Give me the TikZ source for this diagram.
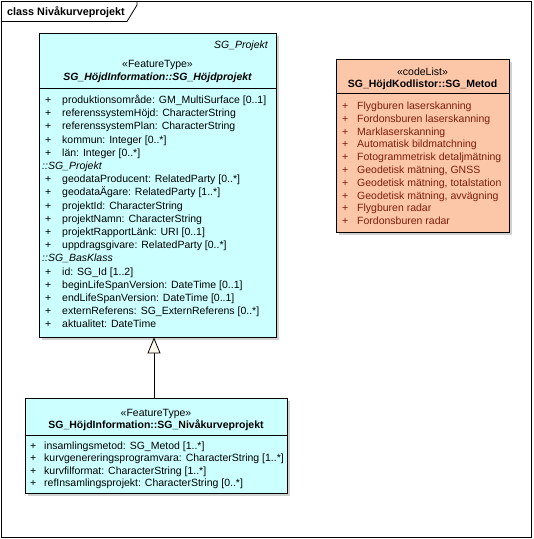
\documentclass[tikz,border=0pt]{standalone}
\usepackage{fontspec}
\setmainfont{Liberation Sans}
\usetikzlibrary{arrows.meta, shadows}
\definecolor{FeatCyan}{RGB}{204, 255, 255}
\definecolor{CodeSalmon}{RGB}{252, 198, 168}
\definecolor{CodeText}{RGB}{125, 30, 15}
\definecolor{TipFill}{RGB}{255, 248, 236}

\begin{document}
\begin{tikzpicture}[
    x=1pt, y=-1pt,
    >=Stealth,
    umlbox/.style={
        draw=black, line width=0.8pt, rectangle, inner sep=0pt,
        general shadow={fill=black!18, shadow xshift=2.5pt, shadow yshift=-2.5pt}
    },
    featbox/.style={umlbox, fill=FeatCyan},
    codebox/.style={umlbox, fill=CodeSalmon},
    attr/.style={anchor=base west, inner sep=0pt,
        font=\fontsize{10.5}{12}\selectfont},
    plus/.style={attr},
    sect/.style={attr, font=\fontsize{10.5}{12}\selectfont\itshape},
    stereo/.style={anchor=base, inner sep=0pt,
        font=\fontsize{10.5}{12}\selectfont},
    cname/.style={anchor=base, inner sep=0pt,
        font=\fontsize{10.5}{12}\selectfont\bfseries},
    gen/.style={-{Triangle[length=16pt, width=13pt, fill=TipFill]}, line width=0.8pt},
]
\useasboundingbox (0,0) rectangle (534,539);

%% diagram frame
\node[draw=black, line width=0.8pt, minimum width=530pt, minimum height=536pt,
    inner sep=0pt] (frame) at (266,269) {};
\draw[line width=0.8pt] (1,21.5) -- (127,21.5) -- (137,5) -- (137,1);
\node[anchor=base west, inner sep=0pt, font=\fontsize{10.8}{12}\selectfont\bfseries]
    (title) at (7,15.5) {class Nivåkurveprojekt};

%% SG_Höjdprojekt
\node[featbox, minimum width=237pt, minimum height=304pt] (hojd) at (157.5,185) {};
\node[anchor=base east, inner sep=0pt, font=\fontsize{10.5}{12}\selectfont\itshape]
    (hojdpar) at (268,48) {SG\_Projekt};
\node[stereo] (hojdst) at (157.5,67) {«FeatureType»};
\node[cname, font=\fontsize{10.5}{12}\selectfont\bfseries\itshape]
    (hojdnm) at (157.5,80) {SG\_HöjdInformation::SG\_Höjdprojekt};
\draw[line width=0.8pt] (hojd.west |- 0,88) -- (hojd.east |- 0,88);

\foreach \txt [count=\i from 0] in {
    produktionsområde: GM\_MultiSurface [0..1],
    referenssystemHöjd: CharacterString,
    referenssystemPlan: CharacterString,
    kommun: Integer [0..*],
    län: Integer [0..*]} {
    \node[plus] (pa\i) at (45, 103.5+13.2*\i) {+};
    \node[attr] (aa\i) at (62, 103.5+13.2*\i) {\txt};
}
\node[sect] (sectp) at (42, 103.5+13.2*5) {::SG\_Projekt};
\foreach \txt [count=\i from 6] in {
    geodataProducent: RelatedParty [0..*],
    geodataÄgare: RelatedParty [1..*],
    projektId: CharacterString,
    projektNamn: CharacterString,
    projektRapportLänk: URI [0..1],
    uppdragsgivare: RelatedParty [0..*]} {
    \node[plus] (pb\i) at (45, 103.5+13.2*\i) {+};
    \node[attr] (ab\i) at (62, 103.5+13.2*\i) {\txt};
}
\node[sect] (sectb) at (42, 103.5+13.2*12) {::SG\_BasKlass};
\foreach \txt [count=\i from 13] in {
    id: SG\_Id [1..2],
    beginLifeSpanVersion: DateTime [0..1],
    endLifeSpanVersion: DateTime [0..1],
    externReferens: SG\_ExternReferens [0..*],
    aktualitet: DateTime} {
    \node[plus] (pc\i) at (45, 103.5+13.2*\i) {+};
    \node[attr] (ac\i) at (62, 103.5+13.2*\i) {\txt};
}

%% SG_Metod
\node[codebox, minimum width=173pt, minimum height=173pt] (metod) at (422.5,145.5) {};
\node[stereo] (metodst) at (422.5,75) {«codeList»};
\node[cname] (metodnm) at (422.5,87.5) {SG\_HöjdKodlistor::SG\_Metod};
\draw[line width=0.8pt] (metod.west |- 0,93) -- (metod.east |- 0,93);
\foreach \txt [count=\i from 0] in {
    Flygburen laserskanning,
    Fordonsburen laserskanning,
    Marklaserskanning,
    Automatisk bildmatchning,
    Fotogrammetrisk detaljmätning,
    {Geodetisk mätning, GNSS},
    {Geodetisk mätning, totalstation},
    {Geodetisk mätning, avvägning},
    Flygburen radar,
    Fordonsburen radar} {
    \node[plus, text=CodeText] (pm\i) at (342, 109.5+12.8*\i) {+};
    \node[attr, text=CodeText] (am\i) at (357, 109.5+12.8*\i) {\txt};
}

%% SG_Nivåkurveprojekt
\node[featbox, minimum width=262pt, minimum height=95pt] (niva) at (156,445.5) {};
\node[stereo] (nivast) at (156,416) {«FeatureType»};
\node[cname] (nivanm) at (156,428.5) {SG\_HöjdInformation::SG\_Nivåkurveprojekt};
\draw[line width=0.8pt] (niva.west |- 0,435) -- (niva.east |- 0,435);
\foreach \txt [count=\i from 0] in {
    insamlingsmetod: SG\_Metod [1..*],
    kurvgenereringsprogramvara: CharacterString [1..*],
    kurvfilformat: CharacterString [1..*],
    refInsamlingsprojekt: CharacterString [0..*]} {
    \node[plus] (pn\i) at (30, 449+12.6*\i) {+};
    \node[attr] (an\i) at (44, 449+12.6*\i) {\txt};
}

%% generalization
\draw[gen] ([xshift=-2pt]niva.north) -- ([xshift=-2pt]niva.north |- hojd.south);

\end{tikzpicture}
\end{document}
